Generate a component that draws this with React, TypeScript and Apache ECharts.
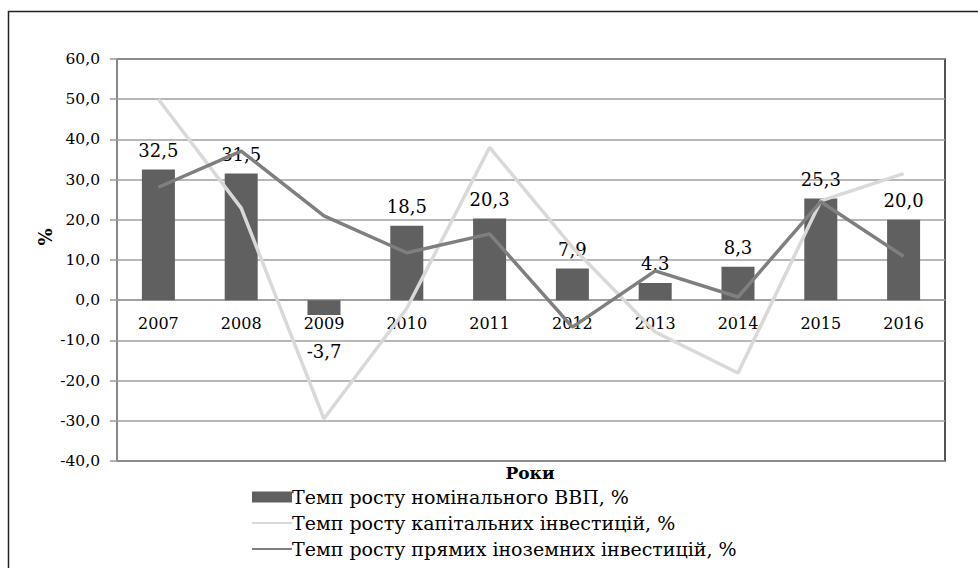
import React, { useEffect, useRef } from "react";
import * as echarts from "echarts";

const years = ["2007", "2008", "2009", "2010", "2011", "2012", "2013", "2014", "2015", "2016"];
const gdpGrowth = [32.5, 31.5, -3.7, 18.5, 20.3, 7.9, 4.3, 8.3, 25.3, 20.0];
const capitalInvestment = [50.0, 22.9, -29.5, -2.0, 38.0, 13.2, -7.9, -18.1, 24.7, 31.5];
const foreignInvestment = [28.1, 37.1, 21.0, 11.8, 16.5, -6.7, 7.3, 0.8, 24.5, 10.9];
const seriesNames = [
  "Темп росту номінального ВВП, %",
  "Темп росту капітальних інвестицій, %",
  "Темп росту прямих іноземних інвестицій, %",
];
const yAxisTitle = "%";
const xAxisTitle = "Роки";

const FONT = "'DejaVu Serif', 'Liberation Serif', serif";
const fmt = (v: number) => v.toFixed(1).replace(".", ",");

export default function App() {
  const ref = useRef<HTMLDivElement>(null);
  useEffect(() => {
    if (!ref.current) return;
    const chart = echarts.init(ref.current, null, { renderer: "svg" });
    chart.setOption({
      animation: false,
      backgroundColor: "#ffffff",
      textStyle: { fontFamily: FONT },
      grid: {
        left: 117,
        top: 59,
        right: 33,
        bottom: 107,
        show: true,
        borderColor: "#1a1a1a",
        borderWidth: 1.5,
        backgroundColor: "transparent",
      },
      legend: {
        orient: "vertical",
        left: 246,
        top: 481,
        itemWidth: 40,
        itemHeight: 11,
        itemGap: 4,
        textStyle: { fontFamily: FONT, fontSize: 19, color: "#000", lineHeight: 22, padding: [0, 0, 0, -5] },
        data: [
          { name: seriesNames[0], icon: "rect" },
          { name: seriesNames[1], itemStyle: { opacity: 0 } },
          { name: seriesNames[2], itemStyle: { opacity: 0 } },
        ],
      },
      xAxis: {
        type: "category",
        data: years,
        position: "bottom",
        offset: -161,
        axisLine: { onZero: false, lineStyle: { color: "#9a9a9a", width: 1.5 } },
        axisTick: { show: false },
        axisLabel: { fontFamily: FONT, fontSize: 16, color: "#000", margin: 15 },
        splitLine: { show: false },
      },
      yAxis: {
        type: "value",
        min: -40,
        max: 60,
        interval: 10,
        axisLine: { show: true, lineStyle: { color: "#9a9a9a", width: 1.5 } },
        axisTick: { show: true, inside: false, length: 7, lineStyle: { color: "#9a9a9a", width: 1.5 } },
        axisLabel: { fontFamily: FONT, fontSize: 15.5, color: "#000", margin: 17, formatter: (v: number) => fmt(v) },
        splitLine: { show: true, lineStyle: { color: "#a0a0a0", width: 1.5 } },
      },
      series: [
        {
          name: seriesNames[0],
          type: "bar",
          barWidth: 33,
          itemStyle: { color: "#606060" },
          z: 2,
          data: gdpGrowth.map((v) => ({
            value: v,
            label:
              v < 0
                ? { show: true, position: "bottom", distance: 27 }
                : { show: true, position: "top", distance: 10 },
          })),
          label: {
            show: true,
            fontFamily: FONT,
            fontSize: 18,
            color: "#000",
            formatter: (p: any) => fmt(p.value),
          },
        },
        {
          name: seriesNames[1],
          type: "line",
          symbol: "none",
          data: capitalInvestment,
          lineStyle: { color: "#d9d9d9", width: 3.5 },
          itemStyle: { color: "#d9d9d9" },
          z: 3,
        },
        {
          name: seriesNames[2],
          type: "line",
          symbol: "none",
          data: foreignInvestment,
          lineStyle: { color: "#7f7f7f", width: 3.5 },
          itemStyle: { color: "#7f7f7f" },
          z: 4,
        },
      ],
      graphic: [
        {
          type: "rect",
          shape: { x: 8.5, y: 11.5, width: 1200, height: 1200 },
          style: { fill: "none", stroke: "#222", lineWidth: 1.5 },
          silent: true,
        },
        {
          type: "text",
          x: 45,
          y: 237,
          rotation: Math.PI / 2,
          style: {
            text: yAxisTitle,
            font: `bold 18px ${FONT}`,
            fill: "#000",
            align: "center",
            verticalAlign: "middle",
          },
        },
        {
          type: "text",
          x: 530,
          y: 473,
          z: 10,
          style: {
            text: xAxisTitle,
            font: `bold 17px ${FONT}`,
            fill: "#000",
            align: "center",
            verticalAlign: "middle",
          },
        },
      ],
    });
    return () => chart.dispose();
  }, []);
  return <div ref={ref} style={{ position: "fixed", left: 0, top: 0, width: 978, height: 568 }} />;
}
